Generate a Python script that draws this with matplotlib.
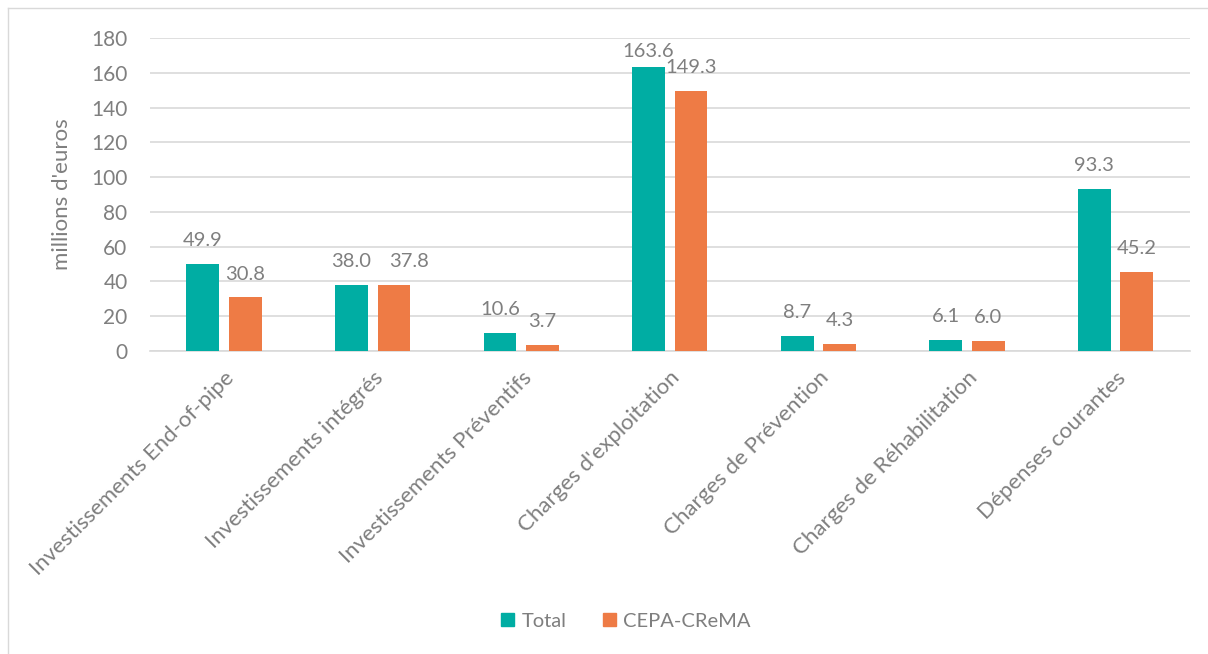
import matplotlib
matplotlib.use("Agg")
import matplotlib.pyplot as plt
from matplotlib.lines import Line2D
import numpy as np

categories = [
    "Investissements End-of-pipe",
    "Investissements intégrés",
    "Investissements Préventifs",
    "Charges d'exploitation",
    "Charges de Prévention",
    "Charges de Réhabilitation",
    "Dépenses courantes",
]
total = [49.9, 38.0, 10.6, 163.6, 8.7, 6.1, 93.3]
cepa_crema = [30.8, 37.8, 3.7, 149.3, 4.3, 6.0, 45.2]
series_names = ["Total", "CEPA-CReMA"]
yticks = [0, 20, 40, 60, 80, 100, 120, 140, 160, 180]

teal = "#00ADA3"
orange = "#EE7B45"
grey = "#7F7F7F"
grid = "#D9D9D9"

plt.rcParams["font.family"] = ["Lato", "DejaVu Sans"]

fig = plt.figure(figsize=(12.08, 6.54), dpi=100)
ax = fig.add_axes([0.124, 0.4633, 0.861, 0.4786])

x = np.arange(len(categories))
w = 0.22
off = 0.143
ax.bar(x - off, total, width=w, color=teal, label=series_names[0], zorder=3)
ax.bar(x + off, cepa_crema, width=w, color=orange, label=series_names[1], zorder=3)

# value labels: baseline ~10 units above the bar, kept inside the plot area
gap = 10.3
top_limit = 169.1
for xi, v in zip(x - off, total):
    ax.text(xi, min(v + gap, top_limit), f"{v:.1f}", ha="center", va="baseline",
            fontsize=14.5, color=grey)
for i, (xi, v) in enumerate(zip(x + off, cepa_crema)):
    # nudge right when the neighbouring label sits at the same height
    dx = 0.1 if abs(v - total[i]) < 1 and v > 20 else 0.0
    ax.text(xi + dx, min(v + gap, top_limit), f"{v:.1f}", ha="center",
            va="baseline", fontsize=14.5, color=grey)

ax.set_xlim(-0.5, len(categories) - 0.5)
ax.set_ylim(0, 180)
ax.set_yticks(yticks)
ax.yaxis.grid(True, color=grid, linewidth=1.2, zorder=0)
ax.set_axisbelow(True)
for s in ["top", "right", "left"]:
    ax.spines[s].set_visible(False)
ax.spines["bottom"].set_color(grid)
ax.spines["bottom"].set_linewidth(1.2)
ax.tick_params(axis="both", length=0, labelcolor=grey)
ax.tick_params(axis="y", labelsize=15, pad=16)
ax.set_xticks(x)
ax.set_xticklabels(categories, rotation=45, ha="right", va="top",
                   rotation_mode="anchor", fontsize=16)
ax.tick_params(axis="x", pad=12)
ax.set_ylabel("millions d'euros", fontsize=16, color=grey, labelpad=14)

handles = [plt.Rectangle((0, 0), 1, 1, color=teal),
           plt.Rectangle((0, 0), 1, 1, color=orange)]
fig.legend(handles, series_names, loc="center", bbox_to_anchor=(0.518, 0.05),
           ncol=2, frameon=False, fontsize=14.5, labelcolor=grey,
           handlelength=0.65, handleheight=0.65, handletextpad=0.35,
           columnspacing=1.8)

# light frame around the chart area
fig.add_artist(Line2D([8 / 1208, 1.0], [1 - 8 / 654, 1 - 8 / 654],
                      transform=fig.transFigure, color=grid, linewidth=1))
fig.add_artist(Line2D([8 / 1208, 8 / 1208], [0.0, 1 - 8 / 654],
                      transform=fig.transFigure, color=grid, linewidth=1))

fig.savefig("out.png", dpi=100)
